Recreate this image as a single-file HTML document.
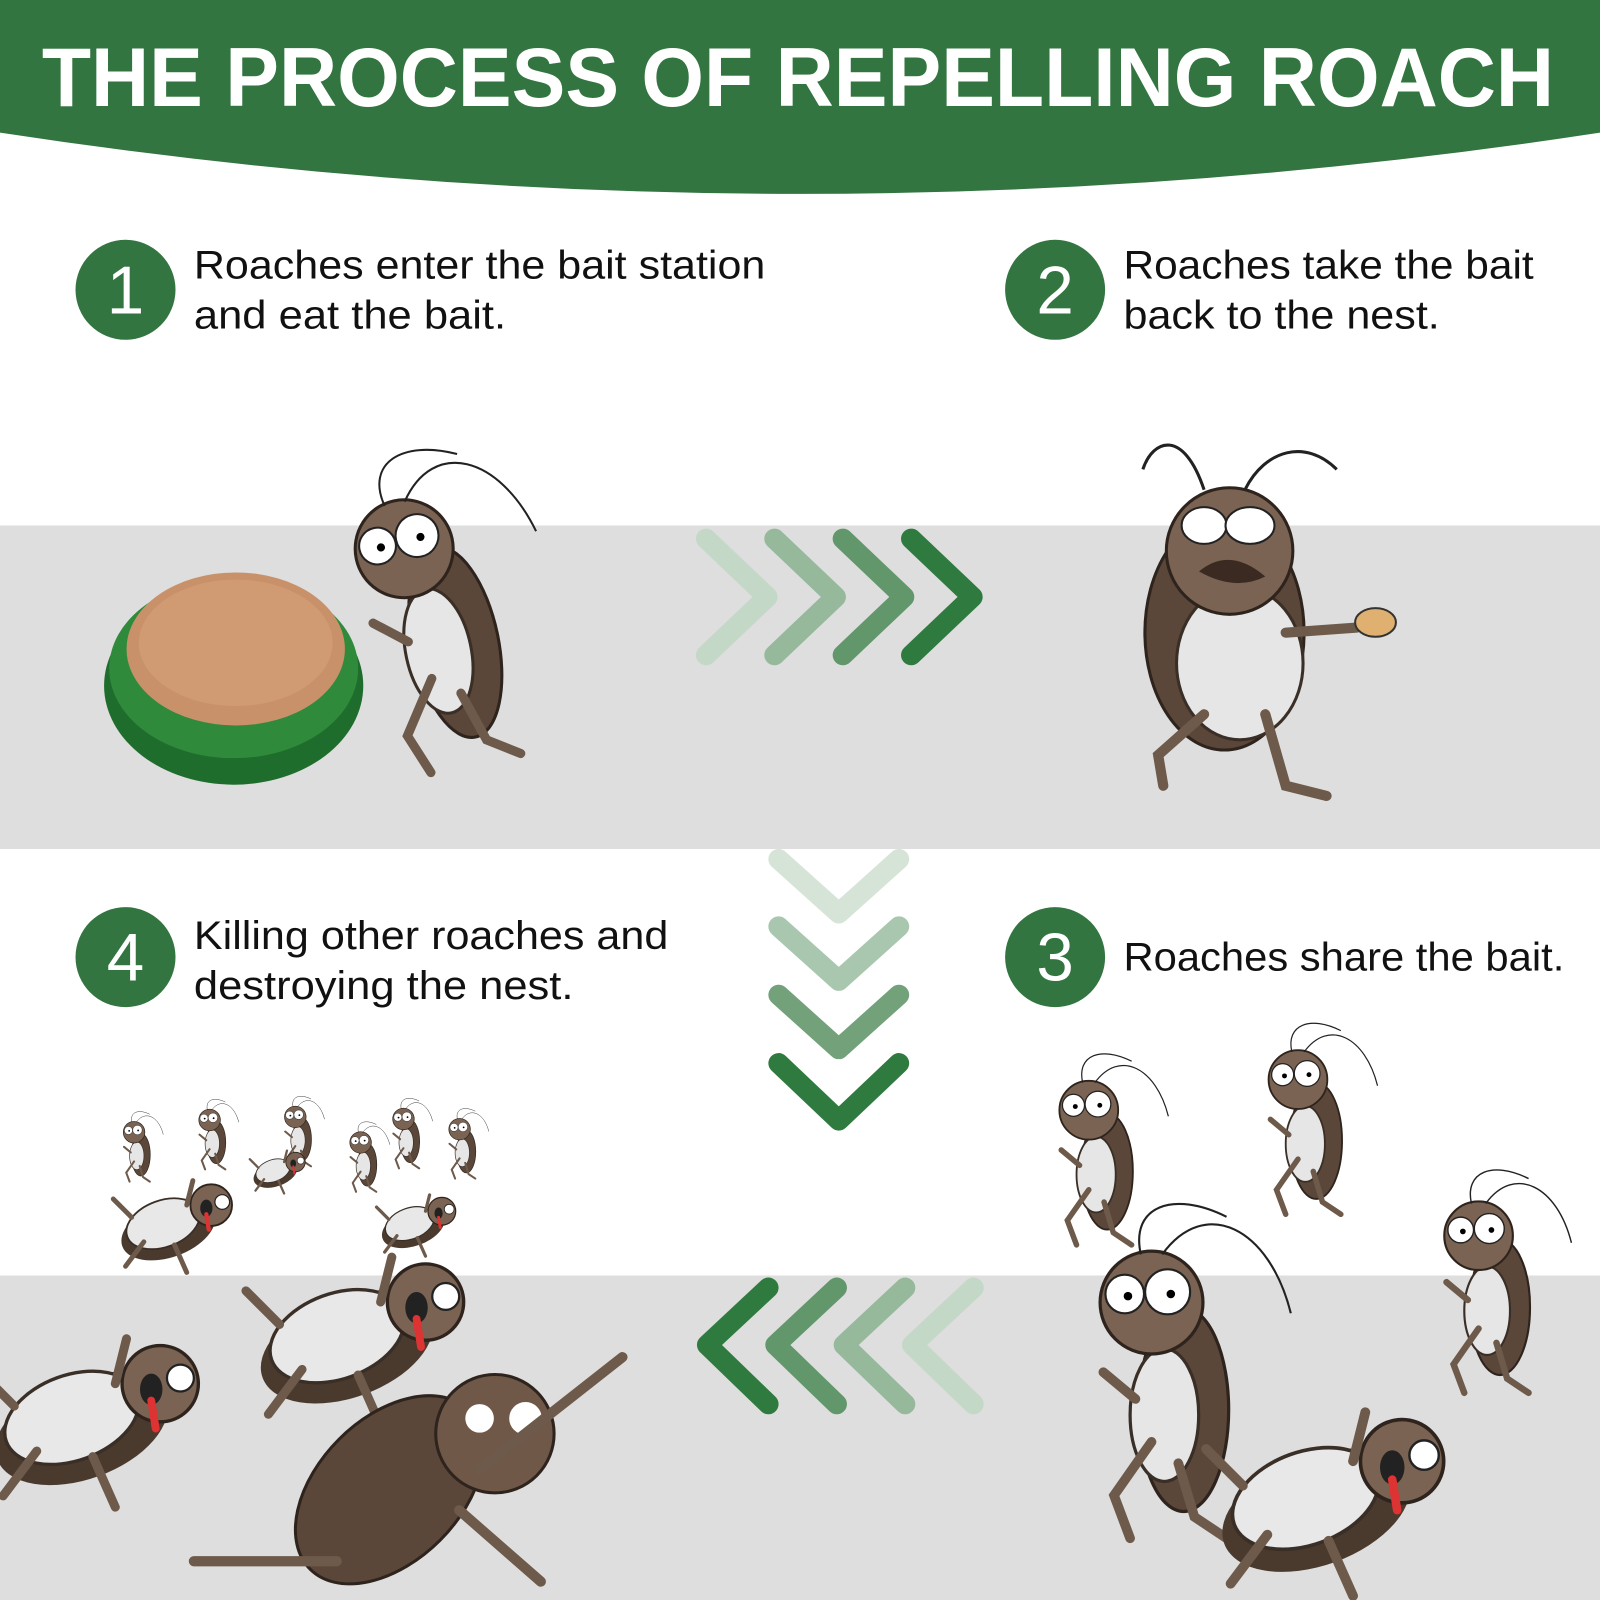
<!DOCTYPE html>
<html><head><meta charset="utf-8"><style>
html,body{margin:0;padding:0;background:#fff}
svg{display:block}
text{font-family:"Liberation Sans",sans-serif}
</style></head><body>
<svg width="1600" height="1600" viewBox="0 0 1568 1568" preserveAspectRatio="none" xmlns="http://www.w3.org/2000/svg">
<defs>
<g id="roach">
  <ellipse cx="0" cy="30" rx="42" ry="95" fill="#5b4739" stroke="#2e241d" stroke-width="3"/>
  <ellipse cx="-18" cy="35" rx="32" ry="62" fill="#e6e6e6" stroke="#3a2f27" stroke-width="3"/>
  <path d="M-30 60 L-65 110 L-50 150 M-5 80 L10 130 L40 150 M-45 20 L-75 -5" stroke="#6e5a4a" stroke-width="9" fill="none" stroke-linecap="round"/>
  <circle cx="-30" cy="-70" r="48" fill="#7a6352" stroke="#2e241d" stroke-width="3"/>
  <circle cx="-55" cy="-78" r="18" fill="#fff" stroke="#222" stroke-width="2"/>
  <circle cx="-15" cy="-80" r="21" fill="#fff" stroke="#222" stroke-width="2"/>
  <circle cx="-52" cy="-76" r="4" fill="#000"/><circle cx="-12" cy="-78" r="4" fill="#000"/>
  <path d="M-40 -115 C-50 -160 -10 -175 40 -150 M-20 -115 C20 -170 80 -140 100 -60" stroke="#222" stroke-width="2" fill="none"/>
</g>
<g id="dead">
  <ellipse cx="0" cy="0" rx="80" ry="45" fill="#4a3a2e" transform="rotate(-20)"/>
  <ellipse cx="-5" cy="-12" rx="62" ry="38" fill="#e8e8e8" stroke="#3a2f27" stroke-width="3" transform="rotate(-20)"/>
  <circle cx="70" cy="-40" r="34" fill="#7a6352" stroke="#2e241d" stroke-width="3"/>
  <circle cx="88" cy="-45" r="12" fill="#fff" stroke="#222" stroke-width="2"/>
  <ellipse cx="62" cy="-35" rx="10" ry="14" fill="#222"/>
  <path d="M62 -25 l4 25" stroke="#d33" stroke-width="7" stroke-linecap="round"/>
  <path d="M-40 20 L-70 60 M10 25 L30 70 M-60 -20 L-90 -50 M30 -40 L40 -80" stroke="#6e5a4a" stroke-width="8" fill="none" stroke-linecap="round"/>
</g>
</defs>

<path d="M0 0 H1568 V130 Q784 250 0 130 Z" fill="#327540"/>
<text x="782" y="104" text-anchor="middle" font-size="82" font-weight="bold" fill="#fff" textLength="1482" lengthAdjust="spacingAndGlyphs">THE PROCESS OF REPELLING ROACH</text>

<rect x="0" y="515" width="1568" height="317" fill="#dedede"/>
<rect x="0" y="1250" width="1568" height="318" fill="#dedede"/>

<g fill="#327540">
<circle cx="123" cy="284" r="49"/><circle cx="1034" cy="284" r="49"/>
<circle cx="123" cy="938" r="49"/><circle cx="1034" cy="938" r="49"/>
</g>
<g fill="#fff" font-size="66" text-anchor="middle">
<text x="123" y="307">1</text><text x="1034" y="307">2</text>
<text x="123" y="961">4</text><text x="1034" y="961">3</text>
</g>

<g font-size="39" fill="#111">
<text x="190" y="273" textLength="560" lengthAdjust="spacingAndGlyphs">Roaches enter the bait station</text>
<text x="190" y="322" textLength="306" lengthAdjust="spacingAndGlyphs">and eat the bait.</text>
<text x="1101" y="273" textLength="402" lengthAdjust="spacingAndGlyphs">Roaches take the bait</text>
<text x="1101" y="322" textLength="310" lengthAdjust="spacingAndGlyphs">back to the nest.</text>
<text x="190" y="930" textLength="465" lengthAdjust="spacingAndGlyphs">Killing other roaches and</text>
<text x="190" y="979" textLength="372" lengthAdjust="spacingAndGlyphs">destroying the nest.</text>
<text x="1101" y="951" textLength="432" lengthAdjust="spacingAndGlyphs">Roaches share the bait.</text>
</g>

<g fill="none" stroke-width="20" stroke-linecap="round" stroke-linejoin="round">
<polyline points="692,528 752,585 692,642" stroke="#c4d8c7"/>
<polyline points="759,528 819,585 759,642" stroke="#96b99c"/>
<polyline points="826,528 886,585 826,642" stroke="#62966b"/>
<polyline points="893,528 953,585 893,642" stroke="#2f7a3e"/>
<polyline points="763,842 822,895 881,842" stroke="#d6e4d8"/>
<polyline points="763,908 822,961 881,908" stroke="#a9c6ae"/>
<polyline points="763,975 822,1028 881,975" stroke="#72a17a"/>
<polyline points="763,1042 822,1098 881,1042" stroke="#2f7a3e"/>
<polyline points="753,1262 693,1318 753,1376" stroke="#2f7a3e"/>
<polyline points="820,1262 760,1318 820,1376" stroke="#62966b"/>
<polyline points="887,1262 827,1318 887,1376" stroke="#96b99c"/>
<polyline points="954,1262 894,1318 954,1376" stroke="#c4d8c7"/>
</g>

<ellipse cx="229" cy="672" rx="127" ry="97" fill="#1f6d2c"/>
<ellipse cx="229" cy="655" rx="122" ry="88" fill="#2f8a3b"/>
<ellipse cx="231" cy="636" rx="107" ry="75" fill="#c8916a"/>
<ellipse cx="231" cy="630" rx="95" ry="62" fill="#d09a72"/>

<g transform="translate(440,600) rotate(-12)"><use href="#roach"/></g>
<g transform="translate(1220,620)">
  <ellipse cx="-20" cy="0" rx="78" ry="115" fill="#5b4739" stroke="#2e241d" stroke-width="3"/>
  <ellipse cx="-5" cy="30" rx="62" ry="75" fill="#e6e6e6" stroke="#3a2f27" stroke-width="3"/>
  <circle cx="-15" cy="-80" r="62" fill="#7a6352" stroke="#2e241d" stroke-width="3"/>
  <ellipse cx="-40" cy="-105" rx="22" ry="18" fill="#fff" stroke="#222" stroke-width="2"/>
  <ellipse cx="5" cy="-105" rx="24" ry="18" fill="#fff" stroke="#222" stroke-width="2"/>
  <path d="M-45 -60 Q-15 -85 20 -55 Q-10 -40 -45 -60Z" fill="#3a2a22"/>
  <path d="M-40 80 L-85 120 L-80 150 M20 80 L40 150 L80 160 M40 0 L110 -5" stroke="#6e5a4a" stroke-width="10" fill="none" stroke-linecap="round"/>
  <path d="M-40 -140 C-60 -200 -90 -190 -100 -160 M0 -140 C20 -180 60 -190 90 -160" stroke="#222" stroke-width="3" fill="none"/>
  <ellipse cx="128" cy="-10" rx="20" ry="14" fill="#e0b070" stroke="#333" stroke-width="2"/>
</g>

<g transform="translate(138,1125) scale(0.22)"><use href="#roach"/></g>
<g transform="translate(212,1113) scale(0.22)"><use href="#roach"/></g>
<g transform="translate(296,1110) scale(0.22)"><use href="#roach"/></g>
<g transform="translate(360,1135) scale(0.22)"><use href="#roach"/></g>
<g transform="translate(402,1112) scale(0.22)"><use href="#roach"/></g>
<g transform="translate(457,1122) scale(0.22)"><use href="#roach"/></g>
<g transform="translate(270,1150) scale(0.28)"><use href="#dead"/></g>
<g transform="translate(165,1205) scale(0.6)"><use href="#dead"/></g>
<g transform="translate(405,1203) scale(0.4)"><use href="#dead"/></g>
<g transform="translate(80,1400) scale(1.1)"><use href="#dead"/></g>
<g transform="translate(340,1320) scale(1.1)"><use href="#dead"/></g>
<g transform="translate(410,1460)">
  <ellipse cx="-20" cy="20" rx="70" ry="110" fill="#5b4739" stroke="#2e241d" stroke-width="3" transform="rotate(45)"/>
  <circle cx="75" cy="-55" r="58" fill="#6f5848" stroke="#2e241d" stroke-width="3"/>
  <circle cx="60" cy="-70" r="14" fill="#fff"/><circle cx="105" cy="-70" r="16" fill="#fff"/>
  <path d="M60 -20 L200 -130 M-80 70 L-220 70 M40 20 L120 90" stroke="#6e5a4a" stroke-width="10" fill="none" stroke-linecap="round"/>
</g>

<g transform="translate(1085,1130) scale(0.6)"><use href="#roach"/></g>
<g transform="translate(1290,1100) scale(0.6)"><use href="#roach"/></g>
<g transform="translate(1470,1260) scale(0.7)"><use href="#roach"/></g>
<g transform="translate(1160,1350) scale(1.05)"><use href="#roach"/></g>
<g transform="translate(1290,1480) scale(1.2)"><use href="#dead"/></g>
</svg>
</body></html>
